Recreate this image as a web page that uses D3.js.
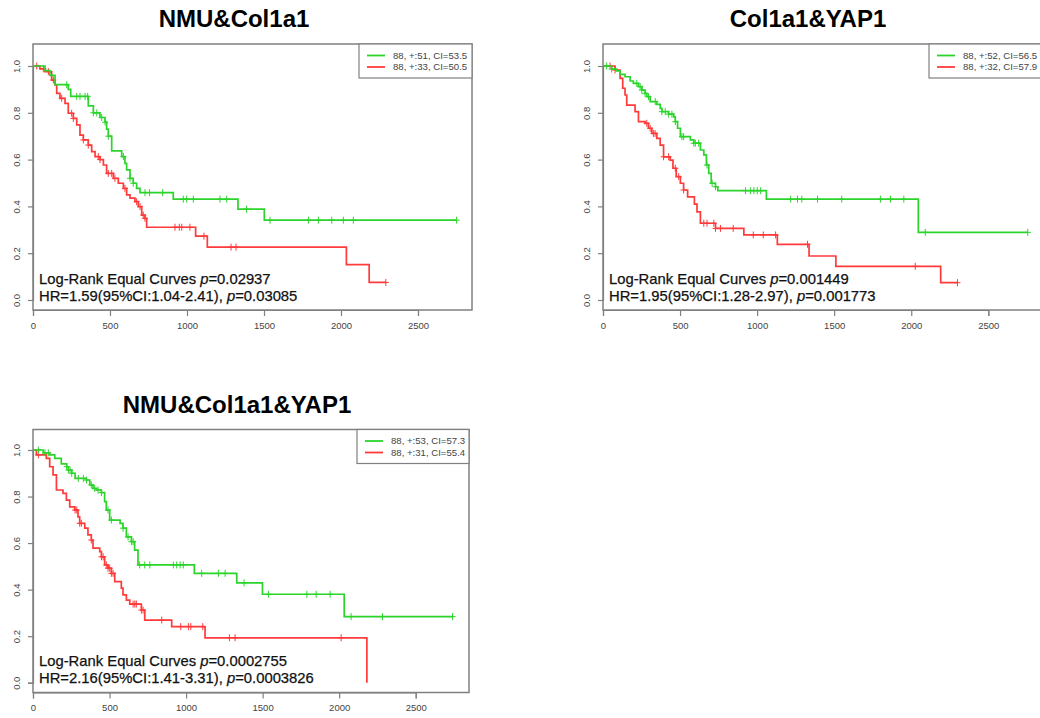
<!DOCTYPE html>
<html>
<head>
<meta charset="utf-8">
<script src="https://cdn.jsdelivr.net/npm/d3@7/dist/d3.min.js"></script>
<style>
  body { margin: 0; background: #fff; }
  svg { display: block; font-family: "Liberation Sans", Arial, sans-serif; }
</style>
</head>
<body>
<div id="chart"></div>
<script>
// ---- data ----
const TITLES      = ["NMU&Col1a1", "Col1a1&YAP1", "NMU&Col1a1&YAP1"]
const LEGEND_HIGH = ["88, +:51, CI=53.5", "88, +:52, CI=56.5", "88, +:53, CI=57.3"]
const LEGEND_LOW  = ["88, +:33, CI=50.5", "88, +:32, CI=57.9", "88, +:31, CI=55.4"]
const LOGRANK_P   = ["0.02937", "0.001449", "0.0002755"]
const HR_TEXT     = ["1.59(95%CI:1.04-2.41)", "1.95(95%CI:1.28-2.97)", "2.16(95%CI:1.41-3.31)"]
const COX_P       = ["0.03085", "0.001773", "0.0003826"]
const X_TICKS     = [0, 500, 1000, 1500, 2000, 2500]
const Y_TICKS     = [0, 0.2, 0.4, 0.6, 0.8, 1.0]

// step curves: event times and survival after each event, plus follow-up end
const p1HighTime = [78, 110, 143, 229, 245, 359, 392, 435, 468, 478, 489, 511, 576, 597, 608, 630, 651, 673, 695, 911, 1331, 1502]
const p1HighSurv = [0.98, 0.96, 0.92, 0.90, 0.87, 0.83, 0.80, 0.78, 0.76, 0.73, 0.70, 0.637, 0.613, 0.584, 0.556, 0.52, 0.499, 0.477, 0.459, 0.431, 0.388, 0.341]
const p1HighEnd  = 2751
const p1HighCens = [219, 284, 305, 338, 355, 392, 414, 446, 468, 489, 587, 630, 651, 727, 757, 842, 976, 998, 1041, 1214, 1258, 1387, 1539, 1788, 1853, 1940, 2015, 2080, 2751]

const p1LowTime = [45, 78, 121, 143, 154, 175, 208, 229, 262, 284, 305, 327, 359, 381, 403, 435, 457, 478, 522, 554, 587, 608, 630, 662, 684, 706, 727, 738, 1056, 1132, 2035, 2183]
const p1LowSurv = [0.988, 0.976, 0.94, 0.919, 0.883, 0.862, 0.84, 0.798, 0.776, 0.748, 0.705, 0.684, 0.662, 0.634, 0.613, 0.60, 0.577, 0.541, 0.52, 0.499, 0.477, 0.449, 0.435, 0.42, 0.399, 0.363, 0.349, 0.311, 0.273, 0.226, 0.151, 0.075]
const p1LowEnd  = 2291
const p1LowCens = [24, 67, 100, 132, 186, 251, 262, 327, 359, 424, 435, 489, 511, 532, 597, 673, 695, 716, 727, 922, 950, 966, 1019, 1110, 1286, 1318, 2291]

const p2HighTime = [56, 89, 111, 143, 176, 197, 230, 252, 273, 284, 306, 349, 371, 382, 426, 458, 469, 484, 502, 567, 589, 632, 654, 671, 686, 702, 730, 745, 1060, 2046]
const p2HighSurv = [0.987, 0.979, 0.964, 0.954, 0.936, 0.926, 0.912, 0.897, 0.883, 0.869, 0.848, 0.836, 0.819, 0.805, 0.794, 0.783, 0.762, 0.734, 0.698, 0.684, 0.670, 0.641, 0.620, 0.577, 0.541, 0.499, 0.484, 0.467, 0.431, 0.289]
const p2HighEnd  = 2756
const p2HighCens = [24, 56, 219, 241, 252, 273, 295, 339, 382, 404, 426, 447, 469, 512, 523, 589, 599, 621, 675, 708, 730, 925, 958, 979, 1001, 1023, 1218, 1262, 1290, 1392, 1549, 1800, 1865, 1952, 2091, 2756]

const p2LowTime = [78, 111, 128, 143, 154, 208, 230, 273, 295, 317, 349, 371, 393, 436, 454, 475, 502, 523, 549, 593, 610, 632, 730, 914, 1131, 1337, 1511, 2191]
const p2LowSurv = [0.983, 0.947, 0.905, 0.876, 0.833, 0.805, 0.762, 0.755, 0.734, 0.712, 0.691, 0.662, 0.612, 0.598, 0.563, 0.527, 0.499, 0.47, 0.441, 0.41, 0.377, 0.328, 0.306, 0.278, 0.238, 0.188, 0.144, 0.074]
const p2LowEnd  = 2300
const p2LowCens = [46, 78, 284, 306, 327, 338, 393, 426, 469, 491, 523, 654, 675, 719, 730, 762, 845, 975, 1040, 1120, 1327, 2026, 2300]

const p3HighTime = [67, 109, 142, 185, 220, 231, 253, 275, 349, 371, 392, 414, 447, 468, 479, 501, 569, 588, 610, 643, 664, 686, 1054, 1331, 1499, 2033]
const p3HighSurv = [0.988, 0.979, 0.964, 0.94, 0.928, 0.914, 0.90, 0.878, 0.871, 0.85, 0.835, 0.828, 0.817, 0.778, 0.742, 0.699, 0.685, 0.664, 0.627, 0.606, 0.57, 0.506, 0.47, 0.429, 0.38, 0.284]
const p3HighEnd  = 2741
const p3HighCens = [35, 78, 100, 220, 231, 242, 253, 296, 329, 349, 381, 403, 425, 447, 490, 512, 588, 621, 643, 654, 697, 730, 763, 917, 939, 961, 982, 1102, 1211, 1255, 1379, 1538, 1789, 1850, 1941, 2078, 2283, 2741]

const p3LowTime = [22, 87, 109, 131, 153, 196, 218, 240, 272, 294, 305, 338, 359, 381, 392, 436, 447, 468, 490, 512, 534, 577, 588, 610, 632, 708, 730, 906, 1124, 2181]
const p3LowSurv = [0.979, 0.964, 0.928, 0.893, 0.828, 0.814, 0.785, 0.756, 0.742, 0.713, 0.685, 0.664, 0.635, 0.613, 0.578, 0.563, 0.541, 0.506, 0.492, 0.47, 0.434, 0.406, 0.377, 0.355, 0.338, 0.312, 0.269, 0.241, 0.193, 0.0]
const p3LowEnd  = 2181
const p3LowCens = [35, 275, 286, 305, 316, 381, 447, 458, 479, 490, 501, 512, 523, 654, 665, 675, 708, 719, 841, 965, 1015, 1031, 1109, 1283, 1320, 2013]

// ---- layout ----
const W = 1040, H = 718
const GREEN = "#2bd42b", RED = "#ff3a3a", AXIS = "#808080"

const PANELS = [
    { left: 33,  right: 472,  top: 44,    bottom: 310,   x2500: 418,   y0: 300,   y1: 66,  titleX: 234, titleY: 27,
      legend: { x: 359, y: 44, w: 113, h: 34 },
      high: [p1HighTime, p1HighSurv, p1HighEnd, p1HighCens], low: [p1LowTime, p1LowSurv, p1LowEnd, p1LowCens] },
    { left: 603, right: 1042, top: 44,    bottom: 310,   x2500: 988.3, y0: 300,   y1: 66,  titleX: 808, titleY: 27,
      legend: { x: 929, y: 44, w: 113, h: 34 },
      high: [p2HighTime, p2HighSurv, p2HighEnd, p2HighCens], low: [p2LowTime, p2LowSurv, p2LowEnd, p2LowCens] },
    { left: 33,  right: 469,  top: 429.5, bottom: 692.5, x2500: 415.7, y0: 682.7, y1: 450, titleX: 237, titleY: 413,
      legend: { x: 357, y: 429.5, w: 112, h: 34 },
      high: [p3HighTime, p3HighSurv, p3HighEnd, p3HighCens], low: [p3LowTime, p3LowSurv, p3LowEnd, p3LowCens] }
]

const svg = d3.select("#chart").append("svg")
    .attr("width", W)
    .attr("height", H)

function stepPoints(times, surv, end) {
    const pts = [[0, 1]]
    times.forEach((t, i) => pts.push([t, surv[i]]))
    pts.push([end, surv[surv.length - 1]])
    return pts
}

function survAt(times, surv, t) {
    const i = d3.bisectRight(times, t)
    return i === 0 ? 1 : surv[i - 1]
}

function drawCurve(g, x, y, series, color) {
    const [times, surv, end, cens] = series
    const line = d3.line()
        .x(d => x(d[0]))
        .y(d => y(d[1]))
        .curve(d3.curveStepAfter)

    g.append("path")
        .datum(stepPoints(times, surv, end))
        .attr("fill", "none")
        .attr("stroke", color)
        .attr("stroke-width", 1.7)
        .attr("d", line)

    // censor marks ("+")
    g.selectAll(null)
        .data(cens)
        .join("path")
            .attr("fill", "none")
            .attr("stroke", color)
            .attr("stroke-width", 1)
            .attr("d", t => {
                const cx = x(t), cy = y(survAt(times, surv, t))
                return `M${cx - 3},${cy}H${cx + 3}M${cx},${cy - 3.5}V${cy + 3.5}`
            })
}

PANELS.forEach((p, k) => {
    const x = d3.scaleLinear().domain([0, 2500]).range([p.left, p.x2500])
    const y = d3.scaleLinear().domain([0, 1]).range([p.y0, p.y1])
    const g = svg.append("g")

    // title
    g.append("text")
        .attr("x", p.titleX)
        .attr("y", p.titleY)
        .attr("text-anchor", "middle")
        .style("font-size", "24px")
        .style("font-weight", "bold")
        .text(TITLES[k])

    // box
    g.append("rect")
        .attr("x", p.left)
        .attr("y", p.top)
        .attr("width", p.right - p.left)
        .attr("height", p.bottom - p.top)
        .attr("fill", "none")
        .attr("stroke", AXIS)
        .attr("stroke-width", 1.5)

    // x axis
    const xAxis = g.append("g")
        .attr("transform", `translate(0, ${p.bottom})`)
        .call(d3.axisBottom(x).tickValues(X_TICKS).tickSize(6).tickPadding(6).tickFormat(d3.format("d")))
    xAxis.select(".domain").attr("stroke", AXIS).attr("stroke-width", 1.2)
    xAxis.selectAll(".tick line").attr("stroke", AXIS).attr("stroke-width", 1.2)
    xAxis.selectAll(".tick text")
        .attr("fill", "#444")
        .style("font-size", "9.5px")
        .style("font-family", "'Liberation Sans', Arial, sans-serif")

    // y axis, labels turned like R's default las=0
    const yAxis = g.append("g")
        .attr("transform", `translate(${p.left}, 0)`)
        .call(d3.axisLeft(y).tickValues(Y_TICKS).tickSize(5).tickFormat(d3.format(".1f")))
    yAxis.select(".domain").attr("stroke", AXIS).attr("stroke-width", 1.2)
    yAxis.selectAll(".tick line").attr("stroke", AXIS).attr("stroke-width", 1.2)
    yAxis.selectAll(".tick text")
        .attr("fill", "#444")
        .attr("x", null).attr("dy", null)
        .attr("text-anchor", "middle")
        .attr("transform", "translate(-13, 0) rotate(-90)")
        .attr("y", 0)
        .style("font-size", "9.5px")
        .style("font-family", "'Liberation Sans', Arial, sans-serif")

    // curves
    drawCurve(g, x, y, p.low, RED)
    drawCurve(g, x, y, p.high, GREEN)

    // legend
    const lg = g.append("g").attr("transform", `translate(${p.legend.x}, ${p.legend.y})`)
    lg.append("rect")
        .attr("width", p.legend.w)
        .attr("height", p.legend.h)
        .attr("fill", "#fff")
        .attr("stroke", AXIS)
        .attr("stroke-width", 1.2)
    const items = [[LEGEND_HIGH[k], GREEN], [LEGEND_LOW[k], RED]]
    items.forEach(([label, color], i) => {
        const ly = 11.5 + i * 11.5
        lg.append("line")
            .attr("x1", 8).attr("x2", 26)
            .attr("y1", ly).attr("y2", ly)
            .attr("stroke", color)
            .attr("stroke-width", 1.8)
        lg.append("text")
            .attr("x", 34)
            .attr("y", ly + 3.3)
            .attr("fill", "#444")
            .style("font-size", "9.6px")
            .text(label)
    })

    // statistics
    const sx = p.left + 6
    const sy = y(0.07)
    const t1 = g.append("text").attr("x", sx).attr("y", sy)
        .style("font-size", "14.8px").attr("fill", "#111")
        .attr("stroke", "#111").attr("stroke-width", 0.25)
    t1.append("tspan").text("Log-Rank Equal Curves ")
    t1.append("tspan").style("font-style", "italic").text("p")
    t1.append("tspan").text("=" + LOGRANK_P[k])
    const t2 = g.append("text").attr("x", sx).attr("y", sy + 17)
        .style("font-size", "14.8px").attr("fill", "#111")
        .attr("stroke", "#111").attr("stroke-width", 0.25)
    t2.append("tspan").text("HR=" + HR_TEXT[k] + ", ")
    t2.append("tspan").style("font-style", "italic").text("p")
    t2.append("tspan").text("=" + COX_P[k])
})
</script>
</body>
</html>
